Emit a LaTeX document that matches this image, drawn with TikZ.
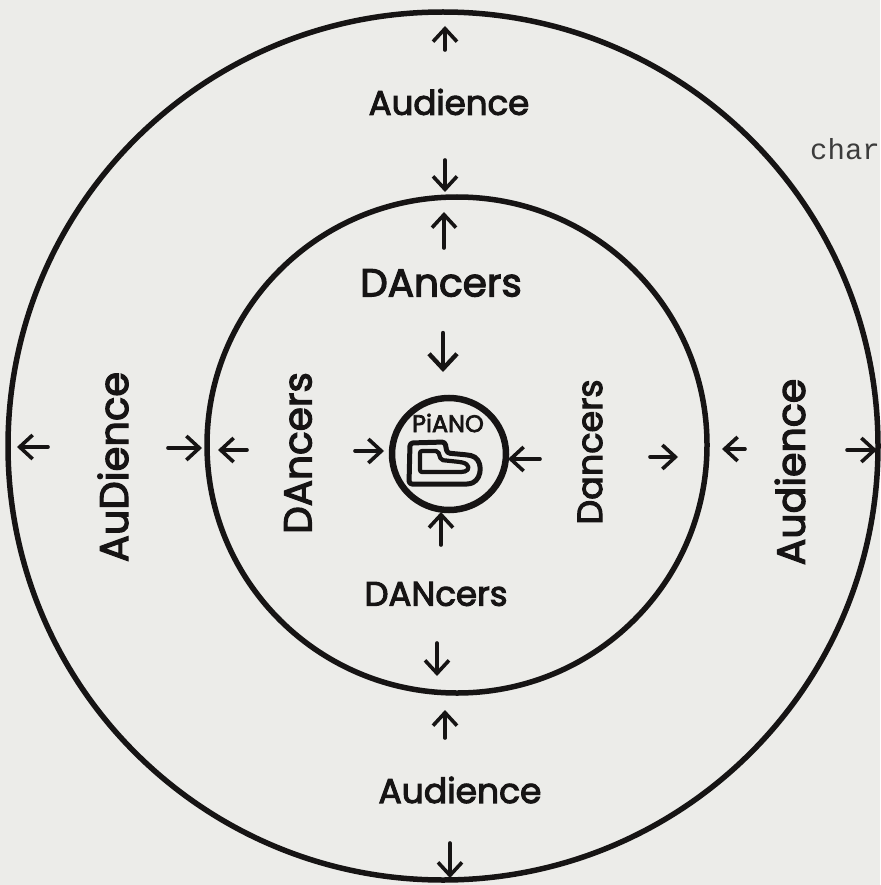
\documentclass[tikz,border=0pt]{standalone}
\usepackage{fontspec}
\newfontfamily\hand{Poppins}[FakeBold=3]
\setmonofont{Liberation Mono}
\usetikzlibrary{arrows.meta}
\definecolor{paper}{RGB}{236,236,233}
\definecolor{ink}{RGB}{22,20,20}
\definecolor{typeink}{RGB}{60,60,60}
\newcommand\fs[1]{\hand\fontsize{#1}{#1}\selectfont}
\begin{document}
\begin{tikzpicture}[x=1pt,y=-1pt,
  ring/.style={draw=ink,line width=5.5pt},
  lab/.style={text=ink,inner sep=0pt},
  arr/.style={draw=ink,line width=3.6pt,line cap=round,-{Straight Barb[length=13pt,width=24pt,line width=3.6pt]}},
  bigarr/.style={draw=ink,line width=4.4pt,line cap=round,-{Straight Barb[length=15pt,width=28pt,line width=4.4pt]}}]
\fill[paper] (0,0) rectangle (880,885);
\useasboundingbox (0,0) rectangle (880,885);
% rings
\draw[ring] (443,446) ellipse [x radius=435, y radius=434];
\draw[ring] (457,445) ellipse [x radius=250, y radius=248];
\draw[ring,line width=6.5pt] (449,454) ellipse [x radius=57, y radius=56];
% piano
\draw[draw=ink,line width=5pt,rounded corners=3pt,line join=round]
  (410,443) -- (445,442) -- (447,453) -- (468,455)
  .. controls (483,458) and (483,478) .. (470,484) -- (409,484) -- cycle;
\draw[draw=ink,line width=4.2pt,rounded corners=2pt,line join=round]
  (420,451) -- (438,451) -- (441,460) -- (460,462)
  .. controls (470,464) and (470,470) .. (463,472) -- (420,472) -- cycle;
% labels
\node[lab,font=\fs{34}] (aT) at (449,102) {Audience};
\node[lab,font=\fs{39}] (dT) at (441,283) {DAncers};
\node[lab,font=\fs{34}] (dB) at (436,594) {DANcers};
\node[lab,font=\fs{34.5}] (aB) at (460,790) {Audience};
\node[lab,font=\fs{40},rotate=90] (aL) at (113,467) {AuDience};
\node[lab,font=\fs{39},rotate=90] (dL) at (298,453) {DAncers};
\node[lab,font=\fs{35},rotate=90] (dR) at (590,452) {Dancers};
\node[lab,font=\fs{39.5},rotate=90] (aR) at (790,472) {Audience};
\node[lab,font=\fs{24}] (pT) at (448,423) {PiANO};
\node[text=typeink,font=\ttfamily\fontsize{29}{29}\selectfont,anchor=base west,inner sep=0pt] (ch) at (810,160) {char};
% arrow end points
\coordinate (t1a) at (445,50);  \coordinate (t1b) at (445,26);
\coordinate (t2a) at (445,160); \coordinate (t2b) at (445,192);
\coordinate (t3a) at (444,248); \coordinate (t3b) at (444,212);
\coordinate (t4a) at (443,333); \coordinate (t4b) at (443,372);
\coordinate (c1a) at (355,451); \coordinate (c1b) at (384,451);
\coordinate (c2a) at (540,459); \coordinate (c2b) at (508,459);
\coordinate (c3a) at (441,545); \coordinate (c3b) at (441,512);
\coordinate (b1a) at (437,643); \coordinate (b1b) at (437,676);
\coordinate (b2a) at (445,738); \coordinate (b2b) at (445,710);
\coordinate (b3a) at (450,843); \coordinate (b3b) at (450,878);
\coordinate (l1a) at (48,447);  \coordinate (l1b) at (17,447);
\coordinate (l2a) at (168,448); \coordinate (l2b) at (202,448);
\coordinate (l3a) at (247,450); \coordinate (l3b) at (218,450);
\coordinate (r1a) at (650,457); \coordinate (r1b) at (678,457);
\coordinate (r2a) at (745,449); \coordinate (r2b) at (722,449);
\coordinate (r3a) at (847,450); \coordinate (r3b) at (877,450);
% arrows
\foreach \p in {t1,t2,t3,c1,c2,c3,b1,b2,b3,l1,l2,l3,r1,r2,r3}
  \draw[arr] (\p a) -- (\p b);
\draw[bigarr] (t4a) -- (t4b);
\end{tikzpicture}
\end{document}
